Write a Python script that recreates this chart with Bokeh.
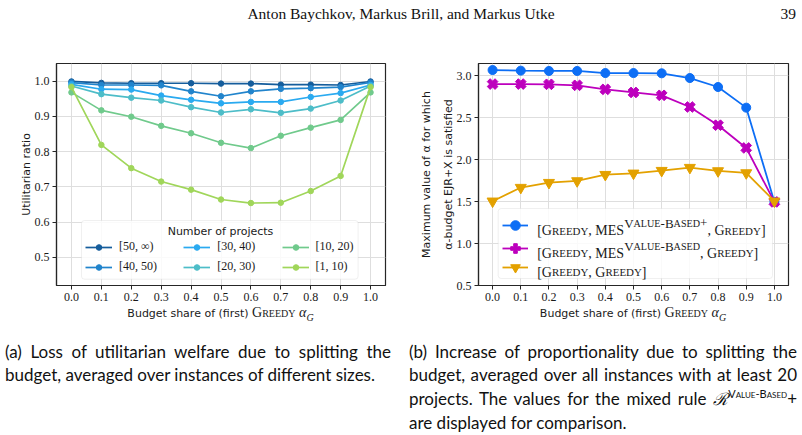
from bokeh.plotting import figure
from bokeh.models import (Range1d, FixedTicker, NumeralTickFormatter, Legend, LegendItem,
                          Label, BoxAnnotation, Div, LinearAxis)
from bokeh.layouts import column, row
from bokeh.embed import file_html
from bokeh.resources import INLINE

# ---------------------------------------------------------------- data
budget_share = [0.0, 0.1, 0.2, 0.3, 0.4, 0.5, 0.6, 0.7, 0.8, 0.9, 1.0]

# (a) utilitarian ratio, grouped by number of projects
size_labels = ["[50, ∞)", "[40, 50)", "[30, 40)", "[20, 30)", "[10, 20)", "[1, 10)"]
util_50_inf = [0.999, 0.995, 0.994, 0.994, 0.994, 0.993, 0.993, 0.990, 0.990, 0.989, 0.999]
util_40_50 = [0.996, 0.989, 0.989, 0.988, 0.971, 0.957, 0.971, 0.978, 0.980, 0.983, 0.996]
util_30_40 = [0.991, 0.977, 0.976, 0.959, 0.947, 0.937, 0.941, 0.941, 0.955, 0.966, 0.989]
util_20_30 = [0.986, 0.963, 0.953, 0.945, 0.926, 0.911, 0.920, 0.910, 0.922, 0.945, 0.986]
util_10_20 = [0.968, 0.917, 0.899, 0.873, 0.852, 0.825, 0.810, 0.845, 0.868, 0.890, 0.968]
util_1_10 = [0.983, 0.819, 0.753, 0.715, 0.692, 0.664, 0.654, 0.655, 0.688, 0.731, 0.983]
size_colors = ["#155d9c", "#2184cc", "#2aaaf0", "#4dbdc8", "#70ca8c", "#a0d65a"]

# (b) maximum alpha for alpha-budget EJR+X
alpha_mes_plus = [3.067, 3.060, 3.056, 3.056, 3.031, 3.031, 3.028, 2.972, 2.865, 2.619, 1.496]
alpha_mes = [2.900, 2.900, 2.897, 2.885, 2.837, 2.800, 2.766, 2.627, 2.410, 2.139, 1.496]
alpha_greedy = [1.504, 1.667, 1.726, 1.746, 1.821, 1.837, 1.869, 1.905, 1.865, 1.841, 1.504]
rule_colors = ["#0d6ef5", "#bd00bd", "#e3a100"]

ticks_a = [0.5, 0.6, 0.7, 0.8, 0.9, 1.0]
ticks_b = [0.5, 1.0, 1.5, 2.0, 2.5, 3.0]

SERIF = "Liberation Serif"
SANS = "DejaVu Sans"
INK = "#1a1a1a"

# Times/Liberation Serif advance widths (em) used to lay out small caps
TIMES_W = {
    "A": .722, "B": .667, "C": .667, "D": .722, "E": .611, "F": .556, "G": .722,
    "H": .722, "I": .333, "L": .611, "M": .889, "N": .722, "O": .722, "R": .667,
    "S": .556, "T": .611, "U": .722, "V": .722, "Y": .722, " ": .25, ",": .25,
    ".": .25, "[": .333, "]": .333, "(": .333, ")": .333, "-": .333, "+": .564,
}


def small_caps(p, x, y, text, size, sc=0.78, color=INK):
    """Write text in small caps (frame pixels, alphabetic baseline); return end x."""
    runs = []
    for ch in text:
        low = ch.islower()
        c = ch.upper() if low else ch
        if runs and runs[-1][1] == low:
            runs[-1][0] += c
        else:
            runs.append([c, low])
    for chunk, low in runs:
        fs = size * sc if low else size
        p.add_layout(Label(x=x, y=y, x_units="screen", y_units="screen", text=chunk,
                           text_font=SERIF, text_font_size=f"{fs:.2f}px",
                           text_baseline="alphabetic", text_align="left", text_color=color))
        x += sum(TIMES_W.get(c, 0.5) for c in chunk) * fs
    return x


def style_label(ax):
    ax.axis_label_text_font = SANS
    ax.axis_label_text_font_size = "11px"
    ax.axis_label_text_font_style = "normal"
    ax.axis_label_text_color = INK


def make_fig(y0, y1, yticks, left, right):
    p = figure(width=401, height=255, x_range=Range1d(-0.05, 1.05), y_range=Range1d(y0, y1),
               output_backend="svg", toolbar_location=None,
               min_border_left=left, min_border_right=right, min_border_top=13,
               min_border_bottom=20)
    p.xaxis.ticker = FixedTicker(ticks=budget_share)
    p.yaxis.ticker = FixedTicker(ticks=yticks)
    p.xgrid.ticker = FixedTicker(ticks=budget_share)
    p.ygrid.ticker = FixedTicker(ticks=yticks)
    p.xaxis.formatter = NumeralTickFormatter(format="0.0")
    p.yaxis.formatter = NumeralTickFormatter(format="0.0")
    for ax in (p.xaxis, p.yaxis):
        ax.major_label_text_font = SERIF
        ax.major_label_text_font_size = "12px"
        ax.major_label_text_color = INK
        ax.major_tick_out = 4
        ax.major_tick_in = 0
        ax.minor_tick_out = 0
        ax.minor_tick_in = 0
        ax.major_tick_line_color = "#262626"
        ax.axis_line_color = "#262626"
        ax.axis_line_width = 1.2
        ax.major_label_standoff = 3
        style_label(ax)
    for g in (p.xgrid, p.ygrid):
        g.grid_line_color = "#dedede"
        g.grid_line_width = 1
    p.outline_line_color = "#262626"
    p.outline_line_width = 1.2
    p.background_fill_color = "white"
    p.border_fill_color = "white"
    return p


def x_label_div(frame_left, frame_w):
    html = (
        f'<div style="position:relative;width:401px;height:25px;color:{INK};">'
        f'<div style="position:absolute;left:{frame_left}px;width:{frame_w}px;top:0;'
        f'line-height:16px;text-align:center;font-family:\'{SANS}\';font-size:11px;'
        'white-space:nowrap;">Budget share of (first) '
        f'<span style="font-family:\'{SERIF}\';font-size:14px;font-variant:small-caps;">Greedy</span> '
        f'<i style="font-family:\'{SERIF}\';font-size:14px;">α<sub style="font-size:10px;'
        'line-height:0;">G</sub></i></div></div>')
    return Div(width=401, height=25, margin=0, text=html)


# ---------------------------------------------------------------- (a)
p1 = make_fig(0.42, 1.05, ticks_a, 56, 16)
p1.yaxis.axis_label = "Utilitarian ratio"
p1.yaxis.axis_label_standoff = -1

size_series = [util_50_inf, util_40_50, util_30_40, util_20_30, util_10_20, util_1_10]
size_renderers = []
for vals, col in zip(size_series, size_colors):
    ln = p1.line(budget_share, vals, line_color=col, line_width=1.7)
    mk = p1.scatter(budget_share, vals, marker="circle", size=5.5, fill_color=col, line_color=col)
    size_renderers.append([ln, mk])

p1.add_layout(BoxAnnotation(left=25, right=301.6, bottom=6.3, top=65,
                            left_units="screen", right_units="screen",
                            bottom_units="screen", top_units="screen",
                            fill_color="white", fill_alpha=0.85,
                            line_color="#cccccc", line_width=1, border_radius=3))
col_x = [29, 127.3, 225.6]
for c in range(3):
    items = [LegendItem(label=size_labels[2 * c + k], renderers=size_renderers[2 * c + k])
             for k in range(2)]
    lg = Legend(items=items, location=(col_x[c], 10.7), orientation="vertical",
                padding=0, margin=0, spacing=5, glyph_width=27, glyph_height=14,
                label_height=14, label_standoff=7, background_fill_alpha=0,
                border_line_alpha=0, label_text_font=SERIF, label_text_font_size="12px",
                label_text_color=INK)
    p1.add_layout(lg, "center")
p1.add_layout(Label(x=164, y=54.3, x_units="screen", y_units="screen",
                    text="Number of projects", text_font=SANS, text_font_size="11px",
                    text_align="center", text_baseline="middle", text_color=INK))

# ---------------------------------------------------------------- (b)
p2 = make_fig(0.5, 3.145, ticks_b, 77, 14)
p2.yaxis.axis_label = "α-budget EJR+X is satisfied"
p2.yaxis.axis_label_standoff = -1
# outer axis carrying only the first line of the y title
title_axis = LinearAxis(axis_label="Maximum value of α for which", ticker=FixedTicker(ticks=[]),
                        major_label_text_font_size="0px", major_tick_out=0, major_tick_in=0,
                        minor_tick_out=0, minor_tick_in=0, major_label_standoff=0,
                        axis_line_color=None, axis_label_standoff=6)
style_label(title_axis)
p2.add_layout(title_axis, "left")

rule_series = [alpha_mes_plus, alpha_mes, alpha_greedy]
rule_markers = [("circle", 9, 0.0), ("plus", 11, 0.785398), ("inverted_triangle", 11, 0.0)]
rule_renderers = []
for vals, col, (mk_type, sz, ang) in zip(rule_series, rule_colors, rule_markers):
    ln = p2.line(budget_share, vals, line_color=col, line_width=1.8)
    mk = p2.scatter(budget_share, vals, marker=mk_type, size=sz, angle=ang,
                    fill_color=col, line_color=col)
    rule_renderers.append([ln, mk])

p2.add_layout(BoxAnnotation(left=19.7, right=294, bottom=7, top=77,
                            left_units="screen", right_units="screen",
                            bottom_units="screen", top_units="screen",
                            fill_color="white", fill_alpha=0.85,
                            line_color="#cccccc", line_width=1, border_radius=3))
row_y = [60, 37.3, 18.3]
for rends, yc in zip(rule_renderers, row_y):
    lg = Legend(items=[LegendItem(label=" ", renderers=rends)], location=(23.7, yc - 12),
                padding=0, margin=0, spacing=0, glyph_width=26, glyph_height=24,
                label_height=24, label_standoff=0, label_width=1,
                background_fill_alpha=0, border_line_alpha=0)
    p2.add_layout(lg, "center")

tx = 58.7
main_fs, sup_fs = 14, 13
text_y = [59.3, 36.7, 17.7]
xe = small_caps(p2, tx, text_y[0] - 4.6, "[Greedy, MES", main_fs)
xe = small_caps(p2, xe, text_y[0] + 3.0, "Value-Based+", sup_fs)
small_caps(p2, xe, text_y[0] - 4.6, ", Greedy]", main_fs)
xe = small_caps(p2, tx, text_y[1] - 4.6, "[Greedy, MES", main_fs)
xe = small_caps(p2, xe, text_y[1] + 2.8, "Value-Based", sup_fs)
small_caps(p2, xe, text_y[1] - 4.6, ", Greedy]", main_fs)
small_caps(p2, tx, text_y[2] - 4.6, "[Greedy, Greedy]", main_fs)

# ---------------------------------------------------------------- page
header = Div(width=802, height=50, margin=0, text=(
    '<div style="position:relative;width:802px;height:50px;font-family:\'Liberation Serif\';'
    'font-size:15.5px;color:#111;">'
    '<div style="position:absolute;left:0;width:802px;top:3px;text-align:center;">'
    'Anton Baychkov, Markus Brill, and Markus Utke</div>'
    '<div style="position:absolute;right:6px;top:3px;">39</div></div>'))

just = "text-align:justify;text-align-last:justify;"
caption = Div(width=802, height=105, margin=0, text=(
    '<div style="position:relative;width:802px;height:105px;font-family:Lato;'
    'font-size:17px;line-height:23.3px;color:#111;">'
    '<div style="position:absolute;left:5px;top:10px;width:386px;">'
    f'<div style="{just}">(a) Loss of utilitarian welfare due to splitting the</div>'
    '<div>budget, averaged over instances of different sizes.</div></div>'
    '<div style="position:absolute;left:409px;top:10px;width:388px;">'
    f'<div style="{just}">(b) Increase of proportionality due to splitting the</div>'
    f'<div style="{just}">budget, averaged over all instances with at least 20</div>'
    f'<div style="{just}">projects. The values for the mixed rule '
    '<i style="font-family:\'DejaVu Serif\'">ℛ</i><sup style="font-variant:small-caps;'
    'font-size:11px;line-height:0;">Value-Based</sup>+</div>'
    '<div>are displayed for comparison.</div></div></div>'))

layout = column(header,
                row(column(p1, x_label_div(56, 329)), column(p2, x_label_div(77, 310))),
                caption)

with open("out.html", "w") as f:
    f.write(file_html(layout, INLINE))
